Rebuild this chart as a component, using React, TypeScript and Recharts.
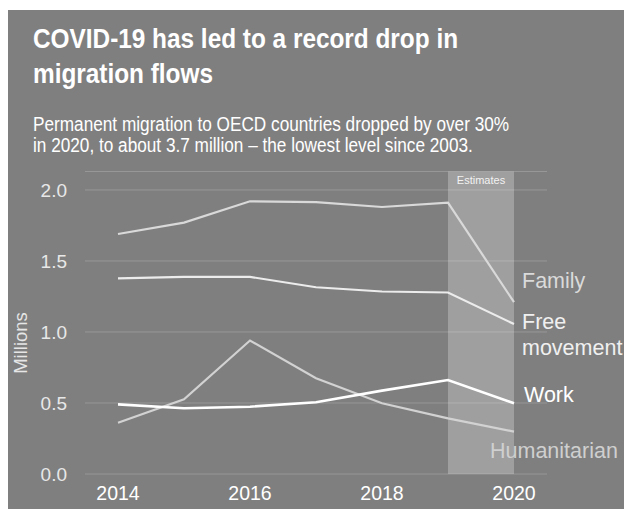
import React from 'react';
import { LineChart, Line, XAxis, YAxis, CartesianGrid, ReferenceArea } from 'recharts';

const years = [2014, 2015, 2016, 2017, 2018, 2019, 2020];
const family = [1.69, 1.77, 1.92, 1.915, 1.88, 1.91, 1.21];
const freeMovement = [1.378, 1.388, 1.388, 1.315, 1.285, 1.278, 1.056];
const work = [0.49, 0.463, 0.474, 0.505, 0.587, 0.662, 0.498];
const humanitarian = [0.361, 0.526, 0.94, 0.674, 0.498, 0.392, 0.298];
const xTicks = [2014, 2016, 2018, 2020];
const yTicks = [0, 0.5, 1, 1.5, 2];

const data = years.map((year, i) => ({
  year,
  family: family[i],
  freeMovement: freeMovement[i],
  work: work[i],
  humanitarian: humanitarian[i],
}));

const font = '"Liberation Sans", Arial, sans-serif';

const App: React.FC = () => {
  return (
    <div
      style={{
        position: 'absolute',
        left: 8,
        top: 10,
        width: 616,
        height: 499,
        background: '#7f7f7f',
        fontFamily: font,
        overflow: 'hidden',
      }}
    >
      <LineChart
        width={616}
        height={499}
        data={data}
        margin={{ top: 161.5, right: 77, bottom: 0, left: 0 }}
        style={{ position: 'absolute', left: 0, top: 0 }}
      >
        <CartesianGrid vertical={false} stroke="#979797" />
        <ReferenceArea
          x1={2019}
          x2={2020}
          y1={0}
          y2={2.13}
          fill="#ffffff"
          fillOpacity={0.25}
          stroke="none"
          ifOverflow="visible"
          label={{ value: 'Estimates', position: 'insideTop', fill: '#f2f2f2', fontSize: 11, fontFamily: font }}
        />
        <XAxis
          dataKey="year"
          type="number"
          domain={[2013.5, 2020.5]}
          ticks={xTicks}
          axisLine={false}
          tickLine={false}
          tickSize={0}
          tickMargin={12}
          height={35}
          tick={{ fill: '#ffffff', fontSize: 19.5, fontFamily: font }}
        />
        <YAxis
          type="number"
          domain={[0, 2.13]}
          ticks={yTicks}
          tickFormatter={(v: number) => v.toFixed(1)}
          axisLine={false}
          tickLine={false}
          tickSize={0}
          tickMargin={18}
          width={77}
          tick={{ fill: '#e8e8e8', fontSize: 19, fontFamily: font }}
        />
        <Line type="linear" dataKey="family" stroke="#d9d9d9" strokeWidth={2.2} dot={false} isAnimationActive={false} />
        <Line type="linear" dataKey="freeMovement" stroke="#ececec" strokeWidth={2.2} dot={false} isAnimationActive={false} />
        <Line type="linear" dataKey="humanitarian" stroke="#d2d2d2" strokeWidth={2.2} dot={false} isAnimationActive={false} />
        <Line type="linear" dataKey="work" stroke="#ffffff" strokeWidth={2.6} dot={false} isAnimationActive={false} />
      </LineChart>

      <div
        style={{
          position: 'absolute',
          left: 25,
          top: 11,
          fontSize: 28,
          fontWeight: 'bold',
          lineHeight: '35px',
          color: '#ffffff',
          whiteSpace: 'nowrap',
          transform: 'scaleX(0.87)',
          transformOrigin: 'left top',
        }}
      >
        COVID-19 has led to a record drop in
        <br />
        migration flows
      </div>
      <div
        style={{
          position: 'absolute',
          left: 25,
          top: 104,
          fontSize: 20,
          lineHeight: '21px',
          color: '#ffffff',
          whiteSpace: 'nowrap',
          transform: 'scaleX(0.86)',
          transformOrigin: 'left top',
        }}
      >
        Permanent migration to OECD countries dropped by over 30%
        <br />
        in 2020, to about 3.7 million – the lowest level since 2003.
      </div>

      <div
        style={{
          position: 'absolute',
          left: 12.5,
          top: 332.5,
          fontSize: 18.5,
          color: '#e6e6e6',
          whiteSpace: 'nowrap',
          transform: 'translate(-50%, -50%) rotate(-90deg)',
        }}
      >
        Millions
      </div>

      <div style={{ position: 'absolute', left: 514, top: 259.5, fontSize: 21.5, lineHeight: '22px', color: '#dadada', whiteSpace: 'nowrap' }}>
        Family
      </div>
      <div style={{ position: 'absolute', left: 514, top: 298.5, fontSize: 21.5, lineHeight: '26px', color: '#f0f0f0', whiteSpace: 'nowrap' }}>
        Free
        <br />
        movement
      </div>
      <div style={{ position: 'absolute', left: 516, top: 373.5, fontSize: 21.5, lineHeight: '22px', color: '#ffffff', whiteSpace: 'nowrap' }}>
        Work
      </div>
      <div style={{ position: 'absolute', left: 482, top: 429.5, fontSize: 21.5, lineHeight: '22px', color: '#cfcfcf', whiteSpace: 'nowrap' }}>
        Humanitarian
      </div>
    </div>
  );
};

export default App;
